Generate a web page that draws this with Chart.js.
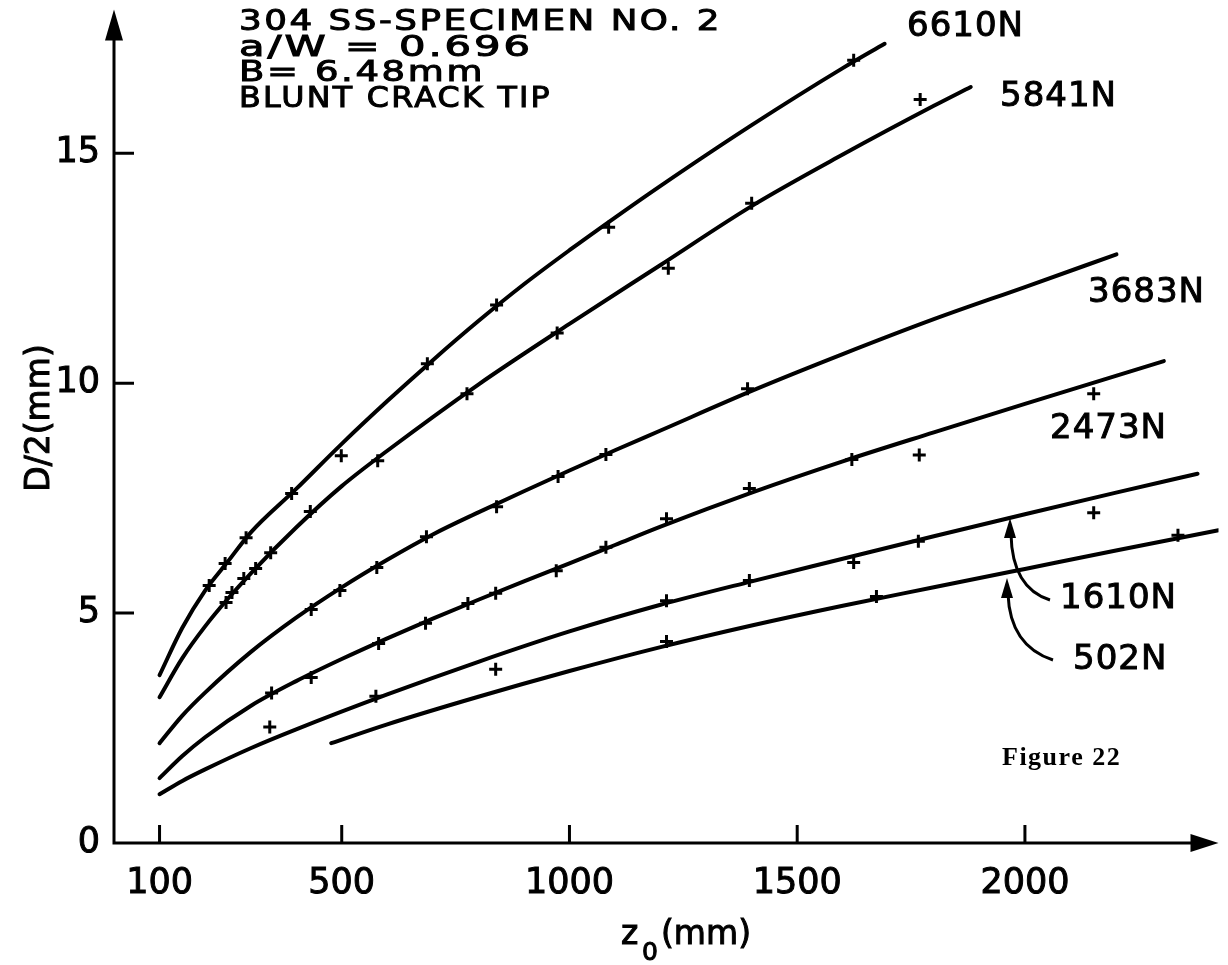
<!DOCTYPE html>
<html>
<head>
<meta charset="utf-8">
<script src="https://cdn.jsdelivr.net/npm/chart.js@4.4.0/dist/chart.umd.min.js"></script>
<style>
html, body { margin: 0; padding: 0; background: #fff; }
#wrap { width: 1228px; height: 965px; }
</style>
</head>
<body>
<div id="wrap"><canvas id="crackChart" width="1228" height="965"></canvas></div>
<script>
var xTickValues = [100, 500, 1000, 1500, 2000];
var yTickValues = [0, 5, 10, 15];
var loadLabels = ['6610N', '5841N', '3683N', '2473N', '1610N', '502N'];

// fitted curves, [z0 (mm), D/2 (mm)]
var fit6610 = [[100, 3.65], [150, 4.68], [200, 5.49], [250, 6.12], [300, 6.75], [400, 7.70], [500, 8.68], [600, 9.61], [700, 10.50], [800, 11.35], [900, 12.15], [1000, 12.89], [1100, 13.60], [1200, 14.29], [1400, 15.61], [1600, 16.85], [1692, 17.38]];
var fit5841 = [[100, 3.17], [150, 4.02], [200, 4.71], [250, 5.31], [300, 5.86], [400, 6.86], [500, 7.76], [600, 8.53], [800, 9.97], [1000, 11.29], [1200, 12.57], [1400, 13.85], [1600, 14.97], [1800, 16.03], [1881, 16.44]];
var fit3683 = [[100, 2.17], [150, 2.77], [200, 3.27], [300, 4.15], [400, 4.90], [500, 5.56], [600, 6.16], [700, 6.71], [800, 7.19], [900, 7.65], [1000, 8.10], [1100, 8.54], [1200, 8.97], [1400, 9.83], [1600, 10.63], [1800, 11.39], [2000, 12.09], [2201, 12.80]];
var fit2473 = [[100, 1.41], [150, 1.89], [200, 2.30], [300, 2.98], [400, 3.52], [500, 4.00], [600, 4.45], [700, 4.88], [800, 5.29], [900, 5.69], [1000, 6.08], [1100, 6.48], [1200, 6.88], [1400, 7.62], [1600, 8.30], [1800, 8.93], [2000, 9.55], [2305, 10.48]];
var fit1610 = [[100, 1.06], [150, 1.35], [200, 1.60], [300, 2.06], [400, 2.47], [600, 3.23], [800, 3.94], [1000, 4.60], [1200, 5.18], [1400, 5.69], [1600, 6.18], [1800, 6.67], [2000, 7.15], [2200, 7.62], [2379, 8.03]];
var fit502 = [[477, 2.17], [600, 2.58], [800, 3.18], [1000, 3.74], [1200, 4.26], [1400, 4.73], [1600, 5.16], [1800, 5.56], [2000, 5.96], [2200, 6.36], [2425, 6.80]];

// measured points
var pts6610 = [[209, 5.60], [244, 6.08], [290, 6.64], [390, 7.60], [499, 8.42], [688, 10.42], [840, 11.70], [1086, 13.39], [1624, 17.02]];
var pts5841 = [[246, 5.23], [259, 5.45], [285, 5.75], [311, 5.97], [344, 6.31], [431, 7.21], [579, 8.31], [775, 9.77], [973, 11.09], [1217, 12.50], [1400, 13.91], [1770, 16.17]];
var pts3683 = [[433, 5.08], [496, 5.49], [577, 5.99], [686, 6.66], [840, 7.31], [975, 7.97], [1080, 8.45], [1391, 9.88]];
var pts2473 = [[346, 3.26], [433, 3.60], [581, 4.34], [684, 4.78], [777, 5.21], [838, 5.43], [971, 5.92], [1080, 6.43], [1213, 7.05], [1395, 7.71], [1620, 8.34], [1768, 8.44], [2151, 9.77]];
var pts1610 = [[342, 2.52], [575, 3.19], [838, 3.78], [1213, 5.27], [1395, 5.71], [1624, 6.10], [1766, 6.56], [2151, 7.18]];
var pts502 = [[1213, 4.38], [1674, 5.36], [2336, 6.69]];

var fits = [fit6610, fit5841, fit3683, fit2473, fit1610, fit502];
var points = [pts6610, pts5841, pts3683, pts2473, pts1610, pts502];

function toXY(arr) {
    return arr.map(function (p) { return { x: p[0], y: p[1] }; });
}

var datasets = [];
fits.forEach(function (f) {
    datasets.push({
        data: toXY(f),
        showLine: true,
        borderColor: '#000',
        borderWidth: 4,
        borderCapStyle: 'round',
        borderJoinStyle: 'round',
        pointRadius: 0,
        cubicInterpolationMode: 'monotone',
        fill: false
    });
});
points.forEach(function (p) {
    datasets.push({
        data: toXY(p),
        showLine: false,
        pointStyle: 'cross',
        pointRadius: 6.5,
        borderColor: '#000',
        borderWidth: 3
    });
});

var LETTER = 'DejaVu Sans';

// filled text with a thin outline so the lettering looks inked
function inkText(ctx, t, x, y) {
    ctx.fillText(t, x, y);
    ctx.strokeText(t, x, y);
}

// stencil lettering is wide: stretch a line to the given width
function wideText(ctx, t, x, y, w) {
    var natural = ctx.measureText(t).width;
    ctx.save();
    ctx.translate(x, y);
    ctx.scale(w / natural, 1);
    inkText(ctx, t, 0, 0);
    ctx.restore();
}

// axes with arrows, inward ticks, axis titles and notes
var sheetDecor = {
    id: 'sheetDecor',
    afterDraw: function (chart) {
        var ctx = chart.ctx;
        var xs = chart.scales.x, ys = chart.scales.y, a = chart.chartArea;
        ctx.save();
        ctx.strokeStyle = '#000';
        ctx.fillStyle = '#000';
        ctx.lineWidth = 3;

        ctx.beginPath();
        ctx.moveTo(a.left, a.top + 24);
        ctx.lineTo(a.left, a.bottom);
        ctx.lineTo(a.right - 22, a.bottom);
        xTickValues.forEach(function (v) {
            var px = xs.getPixelForValue(v);
            ctx.moveTo(px, a.bottom);
            ctx.lineTo(px, a.bottom - 18);
        });
        yTickValues.slice(1).forEach(function (v) {
            var py = ys.getPixelForValue(v);
            ctx.moveTo(a.left, py);
            ctx.lineTo(a.left + 20, py);
        });
        ctx.stroke();

        ctx.beginPath();
        ctx.moveTo(a.left, a.top);
        ctx.lineTo(a.left - 9, a.top + 31);
        ctx.lineTo(a.left + 9, a.top + 31);
        ctx.closePath();
        ctx.fill();
        ctx.beginPath();
        ctx.moveTo(a.right, a.bottom);
        ctx.lineTo(a.right - 28, a.bottom - 9);
        ctx.lineTo(a.right - 28, a.bottom + 9);
        ctx.closePath();
        ctx.fill();

        ctx.lineWidth = 1;

        // y title
        ctx.save();
        ctx.translate(40, 418);
        ctx.rotate(-Math.PI / 2);
        ctx.font = '33px "' + LETTER + '"';
        ctx.textAlign = 'center';
        ctx.textBaseline = 'middle';
        inkText(ctx, 'D/2(mm)', 0, 0);
        ctx.restore();

        // x title with subscript
        ctx.textAlign = 'left';
        ctx.textBaseline = 'alphabetic';
        ctx.font = '33px "' + LETTER + '"';
        inkText(ctx, 'z', 621, 944);
        ctx.font = '25px "' + LETTER + '"';
        inkText(ctx, '0', 642, 960);
        ctx.font = '33px "' + LETTER + '"';
        inkText(ctx, '(mm)', 661, 944);

        // specimen notes
        ctx.letterSpacing = '2px';
        ctx.textBaseline = 'middle';
        ctx.font = '28px "' + LETTER + '"';
        var notes = ['304 SS-SPECIMEN NO. 2', 'a/W = 0.696', 'B= 6.48mm', 'BLUNT CRACK TIP'];
        var noteWidths = [483, 294, 246, 313];
        notes.forEach(function (t, i) {
            wideText(ctx, t, 239, 23 + i * 25.5, noteWidths[i]);
        });

        // load labels
        ctx.letterSpacing = '1px';
        ctx.font = '34px "' + LETTER + '"';
        var spots = [[907, 27], [1000, 97], [1088, 293], [1050, 429], [1060, 599], [1073, 660]];
        loadLabels.forEach(function (t, i) {
            inkText(ctx, t, spots[i][0], spots[i][1]);
        });

        ctx.letterSpacing = '1.5px';
        ctx.font = 'bold 26px "Liberation Serif"';
        ctx.fillText('Figure 22', 1002, 758);
        ctx.letterSpacing = '0px';

        // leader arrows for the two lowest loads
        ctx.lineWidth = 3;
        ctx.beginPath();
        ctx.moveTo(1050, 600);
        ctx.quadraticCurveTo(1012, 588, 1011, 534);
        ctx.moveTo(1053, 660);
        ctx.quadraticCurveTo(1010, 646, 1008, 594);
        ctx.stroke();
        [[1010, 518], [1007, 578]].forEach(function (t) {
            ctx.beginPath();
            ctx.moveTo(t[0], t[1]);
            ctx.lineTo(t[0] - 6, t[1] + 20);
            ctx.lineTo(t[0] + 6, t[1] + 20);
            ctx.closePath();
            ctx.fill();
        });
        ctx.restore();
    }
};

// keep the plot area pinned: no extra room for edge labels
function noEdgePadding(s) {
    s.paddingLeft = 0;
    s.paddingRight = 0;
    s.paddingTop = 0;
    s.paddingBottom = 0;
}

var ctxCrack = document.getElementById('crackChart').getContext('2d');
var crackChart = new Chart(ctxCrack, {
    type: 'scatter',
    data: { datasets: datasets },
    options: {
        responsive: false,
        animation: false,
        layout: { padding: { top: 8, right: 0, bottom: 0, left: 0 } },
        plugins: { legend: { display: false }, tooltip: { enabled: false } },
        scales: {
            x: {
                type: 'linear',
                min: 0,
                max: 2425,
                afterBuildTicks: function (s) { s.ticks = xTickValues.map(function (v) { return { value: v }; }); },
                afterFit: function (s) { s.height = 122; noEdgePadding(s); },
                grid: { display: false, drawTicks: false },
                border: { display: false },
                ticks: {
                    padding: 20,
                    color: '#000',
                    autoSkip: false,
                    maxRotation: 0,
                    textStrokeColor: '#000',
                    textStrokeWidth: 1,
                    font: { family: LETTER, size: 35 },
                    callback: function (v) { return String(v); }
                }
            },
            y: {
                type: 'linear',
                min: 0,
                max: 18.125,
                afterBuildTicks: function (s) { s.ticks = yTickValues.map(function (v) { return { value: v }; }); },
                afterFit: function (s) { s.width = 114; noEdgePadding(s); },
                grid: { display: false, drawTicks: false },
                border: { display: false },
                ticks: {
                    padding: 14,
                    color: '#000',
                    textStrokeColor: '#000',
                    textStrokeWidth: 1,
                    font: { family: LETTER, size: 35 },
                    callback: function (v) { return String(v); }
                }
            }
        }
    },
    plugins: [sheetDecor]
});
</script>
</body>
</html>
